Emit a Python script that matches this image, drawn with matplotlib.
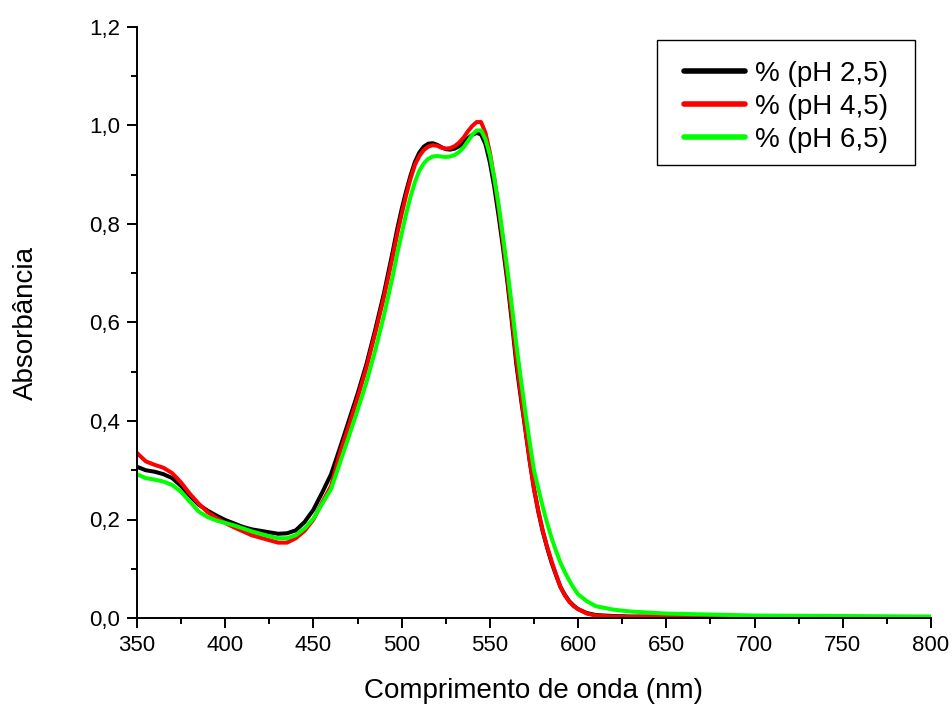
import matplotlib
matplotlib.use("Agg")
import matplotlib.pyplot as plt
from matplotlib.patches import Rectangle
from matplotlib.ticker import MultipleLocator, FuncFormatter

plt.rcParams['font.family'] = ['Liberation Sans', 'DejaVu Sans']

wavelength = [350, 355, 360, 365, 370, 375, 380, 385, 390, 395, 400, 405, 410, 415, 420,
              425, 430, 435, 440, 445, 450, 455, 460, 465, 470, 475, 480, 485, 490,
              495, 497.5, 500, 502.5, 505, 507.5, 510, 512.5, 515, 517.5, 520, 522.5,
              525, 527.5, 530, 532.5, 535, 537.5, 540, 542.5, 545, 547.5, 550, 552.5,
              555, 557.5, 560, 562.5, 565, 567.5, 570, 572.5, 575, 577.5, 580, 582.5,
              585, 587.5, 590, 592.5, 595, 597.5, 600, 605, 610, 620, 630, 650, 700, 750, 800]

abs_ph25 = [0.307, 0.300, 0.297, 0.292, 0.284, 0.268, 0.248, 0.230, 0.218, 0.208, 0.199, 0.192,
            0.185, 0.180, 0.177, 0.174, 0.171, 0.172, 0.178, 0.195, 0.220, 0.255, 0.292, 0.345,
            0.400, 0.455, 0.515, 0.585, 0.660,
            0.745, 0.790, 0.830, 0.866, 0.898, 0.926, 0.945, 0.957, 0.963, 0.964, 0.961, 0.956,
            0.952, 0.951, 0.953, 0.958, 0.965, 0.974, 0.981, 0.985, 0.982, 0.962, 0.925, 0.875,
            0.815, 0.750, 0.680, 0.600, 0.515, 0.448, 0.385, 0.320, 0.262, 0.215, 0.175, 0.142,
            0.112, 0.087, 0.063, 0.047, 0.034, 0.025, 0.018, 0.010, 0.006, 0.004, 0.003, 0.003,
            0.002, 0.002, 0.001]

abs_ph45 = [0.335, 0.318, 0.311, 0.305, 0.294, 0.275, 0.252, 0.232, 0.215, 0.203, 0.193, 0.184,
            0.176, 0.168, 0.163, 0.158, 0.153, 0.153, 0.162, 0.177, 0.200, 0.235, 0.268, 0.335,
            0.390, 0.447, 0.508, 0.578, 0.652,
            0.735, 0.780, 0.820, 0.858, 0.892, 0.920, 0.938, 0.950, 0.957, 0.960, 0.959, 0.955,
            0.953, 0.954, 0.958, 0.965, 0.975, 0.988, 0.999, 1.007, 1.007, 0.985, 0.945, 0.892,
            0.830, 0.762, 0.690, 0.610, 0.525, 0.455, 0.388, 0.322, 0.262, 0.217, 0.177, 0.144,
            0.115, 0.088, 0.063, 0.046, 0.033, 0.024, 0.018, 0.009, 0.005, 0.003, 0.002, 0.002,
            0.002, 0.002, 0.001]

abs_ph65 = [0.292, 0.284, 0.281, 0.277, 0.270, 0.256, 0.236, 0.216, 0.205, 0.198, 0.193, 0.188,
            0.182, 0.176, 0.171, 0.166, 0.162, 0.162, 0.168, 0.182, 0.202, 0.232, 0.262, 0.315,
            0.368, 0.422, 0.478, 0.543, 0.615,
            0.695, 0.740, 0.780, 0.820, 0.855, 0.885, 0.908, 0.923, 0.932, 0.937, 0.938, 0.937,
            0.936, 0.937, 0.940, 0.946, 0.955, 0.968, 0.981, 0.990, 0.990, 0.972, 0.940, 0.893,
            0.838, 0.773, 0.705, 0.632, 0.555, 0.487, 0.420, 0.358, 0.300, 0.262, 0.225, 0.192,
            0.162, 0.136, 0.112, 0.093, 0.076, 0.061, 0.048, 0.034, 0.024, 0.017, 0.013, 0.009,
            0.005, 0.004, 0.003]

labels = ['% (pH 2,5)', '% (pH 4,5)', '% (pH 6,5)']
colors = ['#000000', '#ff0000', '#00ff00']

fig = plt.figure(figsize=(9.53, 7.08), dpi=100)
ax = fig.add_axes([137/953, 1 - 618/708, (931-137)/953, (618-27)/708])

for y, lab, c in zip([abs_ph25, abs_ph45, abs_ph65], labels, colors):
    ax.plot(wavelength, y, color=c, lw=2.9, label=lab,
            solid_joinstyle='round', solid_capstyle='round')

ax.set_xlim(350, 800)
ax.set_ylim(0, 1.2)
ax.xaxis.set_major_locator(MultipleLocator(50))
ax.xaxis.set_minor_locator(MultipleLocator(25))
ax.yaxis.set_major_locator(MultipleLocator(0.2))
ax.yaxis.set_minor_locator(MultipleLocator(0.1))
ax.yaxis.set_major_formatter(FuncFormatter(lambda v, p: f"{v:.1f}".replace('.', ',')))

for s in ['top', 'right']:
    ax.spines[s].set_visible(False)
for s in ['left', 'bottom']:
    ax.spines[s].set_linewidth(1.4)

ax.tick_params(which='major', direction='out', length=7, width=1.4, labelsize=16, pad=5)
ax.tick_params(which='minor', direction='out', length=4, width=1.4)

ax.set_xlabel('Comprimento de onda (nm)', fontsize=20, labelpad=16)
ax.set_ylabel('Absorbância', fontsize=20, labelpad=36)

# legend content without frame; frame drawn around it with wider side padding
leg = ax.legend(loc='upper right', bbox_to_anchor=(0.9458, 0.9424), borderaxespad=0,
                fontsize=20, frameon=False,
                handlelength=2.2, labelspacing=0.25, handletextpad=0.35,
                borderpad=0.0)
for l in leg.get_lines():
    l.set_linewidth(4)
leg.set_zorder(10)

fig.canvas.draw()
bb = leg.get_window_extent()
padx, pad_top, pad_bot = 27, 21, 12
W, H = fig.bbox.width, fig.bbox.height
frame = Rectangle(((bb.x0 - padx) / W, (bb.y0 - pad_bot) / H),
                  (bb.width + 2 * padx) / W, (bb.height + pad_top + pad_bot) / H,
                  transform=fig.transFigure, facecolor='white', edgecolor='black',
                  linewidth=1.0, zorder=9, clip_on=False)
ax.add_patch(frame)

fig.savefig('out.png', dpi=100)
